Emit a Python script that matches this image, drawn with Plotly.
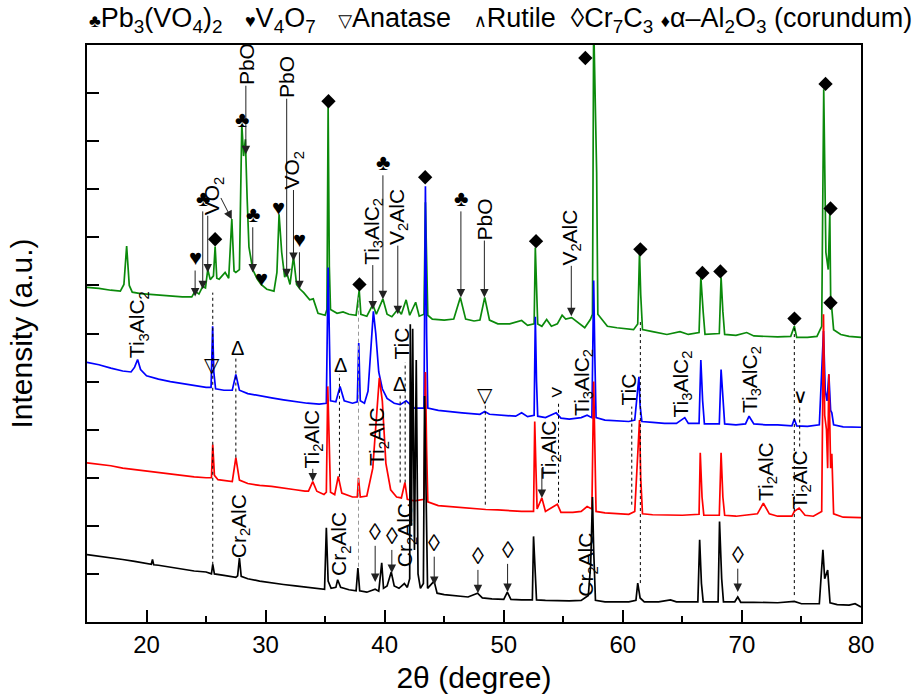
import plotly.graph_objects as go

FONT = "Liberation Sans, Arial, DejaVu Sans, sans-serif"

# XRD patterns: (2-theta in degree, intensity in a.u.), four samples stacked
green_pattern = [
    (15.0, 6.96), (16.0, 6.94), (17.0, 6.90), (17.8, 6.88), (18.1, 7.02), (18.33, 7.82), (18.55, 7.0),
    (18.8, 6.86), (19.5, 6.83), (20.0, 6.82), (21.0, 6.80), (22.0, 6.77), (23.0, 6.76), (23.8, 6.76),
    (24.08, 6.88), (24.4, 6.82), (24.72, 6.98), (24.95, 6.95), (25.14, 7.33), (25.35, 7.12), (25.62, 7.2),
    (25.76, 7.81), (25.9, 7.15), (26.1, 7.13), (26.6, 7.27), (26.9, 7.15), (27.16, 8.38), (27.35, 7.3),
    (27.5, 7.27), (27.8, 7.33), (28.0, 10.35), (28.15, 9.69), (28.3, 10.04), (28.45, 8.8), (28.6, 7.8),
    (28.92, 7.33), (29.3, 7.13), (29.62, 7.02), (30.1, 6.92), (30.7, 6.88), (30.95, 7.27), (31.13, 8.48),
    (31.35, 7.69), (31.6, 7.17), (31.77, 7.27), (32.05, 7.02), (32.34, 7.6), (32.6, 7.02), (32.9, 6.92),
    (33.2, 6.85), (33.7, 6.7), (34.0, 6.72), (34.4, 6.42), (35.0, 6.38), (35.15, 6.5), (35.25, 10.73),
    (35.35, 7.4), (35.45, 6.5), (36.0, 6.42), (36.5, 6.45), (37.0, 6.40), (37.6, 6.38), (37.86, 6.90),
    (38.0, 6.4), (38.5, 6.36), (39.0, 6.6), (39.3, 6.4), (39.85, 6.72), (40.2, 6.40), (40.6, 6.35),
    (41.1, 6.5), (41.4, 6.4), (41.8, 6.7), (42.1, 6.38), (42.6, 6.65), (42.9, 6.36), (43.3, 6.4),
    (43.42, 8.73), (43.52, 7.2), (43.62, 6.38), (44.0, 6.30), (45.0, 6.28), (45.8, 6.30), (46.35, 6.75),
    (46.8, 6.30), (47.5, 6.26), (48.0, 6.28), (48.4, 6.75), (48.8, 6.28), (49.5, 6.20), (50.5, 6.20),
    (51.5, 6.27), (52.0, 6.17), (52.55, 6.2), (52.65, 7.79), (52.75, 6.8), (52.85, 6.2), (53.2, 6.15),
    (53.6, 6.29), (54.0, 6.15), (54.5, 6.2), (54.9, 6.38), (55.2, 6.3), (55.7, 6.33), (56.2, 6.23),
    (56.8, 6.12), (57.27, 6.29), (57.45, 6.4), (57.55, 12.5), (57.8, 9.35), (57.9, 6.4), (58.7, 6.15),
    (59.5, 6.12), (60.5, 6.1), (60.9, 6.08), (61.25, 6.2), (61.4, 7.69), (61.5, 6.81), (61.65, 6.08),
    (62.5, 6.04), (63.7, 5.98), (64.8, 6.04), (65.5, 5.98), (66.4, 6.02), (66.55, 7.17), (66.75, 6.44),
    (66.9, 5.98), (68.1, 6.0), (68.25, 7.17), (68.4, 6.46), (68.55, 5.98), (69.5, 5.96), (70.4, 6.02),
    (71.0, 5.95), (72.1, 5.94), (73.0, 5.93), (74.1, 5.94), (74.4, 6.15), (74.6, 5.92), (75.5, 5.92),
    (76.3, 5.94), (76.7, 6.15), (76.87, 11.08), (77.05, 7.69), (77.25, 7.33), (77.38, 8.52), (77.45, 6.8),
    (77.52, 6.6), (77.7, 6.08), (78.3, 5.98), (79.0, 5.94), (80.0, 5.92),
]

blue_pattern = [
    (15.0, 5.40), (16.0, 5.35), (17.0, 5.28), (18.0, 5.22), (18.7, 5.20), (19.0, 5.30), (19.25, 5.46),
    (19.5, 5.25), (20.0, 5.12), (21.0, 5.05), (22.0, 5.00), (23.0, 4.96), (24.0, 4.92), (25.0, 4.88),
    (25.42, 4.88), (25.55, 6.15), (25.65, 5.2), (25.8, 4.85), (26.5, 4.82), (27.2, 4.82), (27.5, 5.15),
    (27.8, 4.82), (28.5, 4.75), (29.5, 4.70), (30.5, 4.66), (31.5, 4.62), (32.5, 4.58), (33.5, 4.55),
    (34.5, 4.53), (35.1, 4.55), (35.25, 7.37), (35.35, 5.7), (35.45, 4.6), (35.9, 4.58), (36.25, 4.9),
    (36.6, 4.6), (37.3, 4.55), (37.7, 4.58), (37.82, 5.8), (37.95, 4.6), (38.3, 4.55), (38.6, 4.8),
    (38.85, 5.8), (39.05, 6.46), (39.25, 6.0), (39.5, 5.2), (39.8, 4.85), (40.2, 4.65), (40.8, 4.55),
    (41.3, 4.52), (41.8, 4.6), (42.5, 4.45), (43.3, 4.45), (43.42, 9.06), (43.52, 6.0), (43.62, 4.45),
    (44.5, 4.40), (45.5, 4.37), (46.5, 4.35), (48.0, 4.32), (48.4, 4.38), (48.8, 4.32), (50.0, 4.30),
    (51.0, 4.28), (51.5, 4.35), (52.0, 4.27), (52.55, 4.3), (52.65, 6.35), (52.75, 5.0), (52.85, 4.28),
    (53.5, 4.25), (54.4, 4.35), (54.8, 4.24), (55.5, 4.22), (56.5, 4.25), (57.0, 4.3), (57.4, 4.25),
    (57.55, 7.1), (57.65, 5.5), (57.75, 4.25), (58.5, 4.20), (59.5, 4.18), (60.5, 4.17), (61.0, 4.2),
    (61.35, 5.1), (61.45, 4.5), (61.6, 4.17), (62.5, 4.15), (63.5, 4.13), (64.5, 4.13), (65.2, 4.25),
    (65.5, 4.13), (66.4, 4.13), (66.55, 5.45), (66.7, 4.6), (66.85, 4.12), (68.1, 4.12), (68.25, 5.25),
    (68.4, 4.6), (68.55, 4.12), (69.5, 4.10), (70.3, 4.12), (70.6, 4.28), (71.0, 4.12), (72.0, 4.10),
    (73.0, 4.10), (74.2, 4.08), (74.4, 4.22), (74.6, 4.08), (75.5, 4.07), (76.5, 4.10), (76.85, 6.05),
    (77.0, 4.8), (77.15, 4.6), (77.3, 5.15), (77.45, 4.4), (77.55, 4.35), (77.7, 4.10), (78.5, 4.06),
    (79.5, 4.05), (80.0, 4.05),
]

red_pattern = [
    (15.0, 3.31), (16.0, 3.28), (17.0, 3.25), (18.0, 3.20), (19.0, 3.17), (20.0, 3.13), (21.0, 3.10),
    (22.0, 3.07), (23.0, 3.04), (24.0, 3.02), (25.0, 3.00), (25.45, 3.0), (25.56, 3.69), (25.7, 3.05),
    (26.0, 2.96), (27.2, 2.92), (27.5, 3.42), (27.8, 2.95), (28.5, 2.88), (29.5, 2.84), (30.5, 2.82),
    (31.5, 2.79), (32.5, 2.75), (33.3, 2.72), (33.6, 2.72), (33.96, 2.92), (34.3, 2.72), (34.9, 2.65),
    (35.1, 2.7), (35.22, 4.9), (35.32, 3.8), (35.45, 2.7), (35.8, 2.65), (36.1, 3.03), (36.4, 2.68),
    (37.3, 2.60), (37.7, 2.60), (37.8, 3.0), (37.95, 2.6), (38.5, 2.62), (39.0, 3.2), (39.3, 4.2),
    (39.55, 5.08), (39.8, 4.6), (40.1, 3.3), (40.5, 2.75), (41.0, 2.60), (41.4, 2.58), (41.7, 2.9),
    (41.9, 2.55), (42.5, 2.52), (43.3, 2.55), (43.42, 5.2), (43.52, 3.6), (43.62, 2.5), (44.5, 2.42),
    (45.5, 2.40), (46.5, 2.38), (47.5, 2.35), (48.5, 2.34), (49.5, 2.33), (50.5, 2.31), (51.5, 2.30),
    (52.5, 2.30), (52.6, 4.17), (52.7, 3.2), (52.8, 2.35), (53.2, 2.58), (53.5, 2.30), (54.5, 2.45),
    (54.8, 2.28), (55.8, 2.28), (56.5, 2.30), (57.0, 2.4), (57.4, 2.35), (57.55, 5.0), (57.65, 3.8),
    (57.75, 2.30), (58.5, 2.27), (59.5, 2.25), (60.5, 2.24), (61.0, 2.3), (61.4, 4.2), (61.5, 3.0),
    (61.65, 2.25), (62.5, 2.23), (64.0, 2.22), (65.0, 2.22), (66.4, 2.24), (66.5, 3.52), (66.65, 2.6),
    (66.8, 2.22), (68.1, 2.22), (68.25, 3.52), (68.4, 2.6), (68.55, 2.22), (69.5, 2.20), (71.3, 2.25),
    (71.8, 2.47), (72.3, 2.25), (73.0, 2.20), (74.2, 2.20), (74.4, 2.3), (74.8, 2.37), (75.3, 2.22),
    (76.0, 2.20), (76.7, 2.3), (76.85, 6.4), (76.95, 4.3), (77.1, 4.0), (77.2, 3.2), (77.3, 5.15),
    (77.45, 3.2), (77.55, 3.5), (77.7, 2.25), (78.5, 2.18), (80.0, 2.17),
]

black_pattern = [
    (15.0, 1.40), (16.0, 1.37), (17.0, 1.33), (18.0, 1.30), (19.0, 1.26), (20.0, 1.22), (20.4, 1.2),
    (20.5, 1.30), (20.6, 1.19), (21.0, 1.18), (22.0, 1.14), (23.0, 1.10), (24.0, 1.06), (25.0, 1.04),
    (25.45, 1.0), (25.56, 1.2), (25.7, 1.0), (26.5, 0.97), (27.5, 0.93), (27.65, 0.96), (27.8, 1.33),
    (27.95, 0.95), (28.2, 0.92), (28.5, 0.90), (29.5, 0.85), (30.5, 0.81), (31.5, 0.78), (32.5, 0.75),
    (33.5, 0.72), (34.5, 0.69), (34.95, 0.68), (35.1, 1.96), (35.25, 0.85), (35.5, 0.70), (35.9, 0.72),
    (36.05, 0.88), (36.3, 0.72), (37.0, 0.67), (37.6, 0.65), (37.75, 1.12), (37.9, 0.65), (38.5, 0.62),
    (39.2, 0.68), (39.5, 0.64), (39.75, 1.23), (39.9, 0.7), (40.2, 0.75), (40.55, 1.04), (40.8, 0.75),
    (41.2, 0.70), (41.65, 0.8), (41.9, 0.72), (42.1, 0.9), (42.15, 6.19), (42.25, 2.0), (42.35, 6.1),
    (42.5, 1.5), (42.65, 5.45), (42.8, 1.0), (43.0, 0.70), (43.25, 0.8), (43.35, 4.7), (43.5, 1.5),
    (43.6, 0.70), (44.15, 0.85), (44.4, 0.60), (45.0, 0.57), (46.0, 0.55), (47.0, 0.52), (47.8, 0.6),
    (48.2, 0.50), (49.0, 0.48), (50.0, 0.47), (50.3, 0.62), (50.6, 0.47), (51.5, 0.46), (52.4, 0.46),
    (52.5, 1.78), (52.62, 1.0), (52.75, 0.46), (53.5, 0.45), (54.5, 0.44), (55.5, 0.44), (56.5, 0.45),
    (57.1, 0.55), (57.3, 1.2), (57.45, 2.6), (57.55, 1.5), (57.7, 0.45), (58.5, 0.42), (59.5, 0.42),
    (60.5, 0.42), (61.1, 0.45), (61.25, 0.81), (61.45, 0.5), (61.8, 0.42), (63.0, 0.42), (64.0, 0.46),
    (64.5, 0.42), (66.3, 0.42), (66.45, 1.71), (66.6, 0.8), (66.75, 0.42), (68.0, 0.42), (68.12, 2.09),
    (68.3, 0.9), (68.45, 0.42), (69.4, 0.42), (69.65, 0.52), (69.9, 0.41), (71.0, 0.41), (72.0, 0.41),
    (73.0, 0.40), (74.4, 0.43), (75.0, 0.38), (76.5, 0.38), (76.8, 1.5), (76.95, 0.9), (77.2, 1.08),
    (77.4, 0.40), (78.0, 0.36), (79.0, 0.35), (79.5, 0.38), (80.0, 0.31),
]

# corundum reflections marked with filled diamonds
corundum_marks = [
    (25.76, 7.96), (35.28, 10.83), (37.88, 7.02), (43.4, 9.25), (52.71, 7.92), (56.85, 11.73),
    (61.47, 7.75), (66.68, 7.26), (68.19, 7.29), (74.41, 6.31), (77.02, 11.19), (77.44, 8.6), (77.44, 6.64),
]

x_ticks = [20, 30, 40, 50, 60, 70, 80]

# labelled arrows: (label, 2-theta, label height, arrow tip height)
arrow_labels = [
    ("♣", 24.72, 8.81, 6.92),
    ("♥", 24.08, 7.58, 6.77),
    ("♣", 28.92, 8.48, 7.27),
    ("PbO", 28.34, 11.6, 9.73),
    ("PbO", 31.77, 11.33, 7.17),
    ("VO<sub>2</sub>", 32.34, 9.40, 7.51),
    ("♥", 32.84, 7.96, 6.92),
    ("Ti<sub>3</sub>AlC<sub>2</sub>", 39.0, 8.13, 6.5),
    ("♣", 39.85, 9.56, 6.71),
    ("V<sub>2</sub>AlC", 41.1, 8.42, 6.4),
    ("♣", 46.4, 8.81, 6.75),
    ("PbO", 48.37, 8.38, 6.75),
    ("V<sub>2</sub>AlC", 55.67, 8.0, 6.36),
    ("Ti<sub>2</sub>AlC", 33.96, 3.81, 2.92),
    ("◊", 39.2, 1.875, 0.83),
    ("◊", 40.6, 1.79, 1.02),
    ("◊", 44.16, 1.65, 0.77),
    ("◊", 47.83, 1.375, 0.6),
    ("◊", 50.32, 1.5, 0.625),
    ("◊", 69.65, 1.4, 0.625),
]

# bare arrows: (tail 2-theta, tail height, tip 2-theta, tip height)
bare_arrows = [
    (25.14, 8.48, 25.14, 7.27),
    (26.18, 8.85, 27.16, 8.375),
    (53.2, 3.23, 53.2, 2.58),
]

# rotated phase labels without arrows
phase_labels = [
    ("VO<sub>2</sub>", 25.61, 8.86),
    ("Ti<sub>3</sub>AlC<sub>2</sub>", 19.35, 6.19),
    ("Ti<sub>2</sub>AlC", 39.45, 3.85),
    ("TiC", 41.45, 5.79),
    ("Ti<sub>3</sub>AlC<sub>2</sub>", 56.6, 4.98),
    ("TiC", 60.49, 4.83),
    ("Ti<sub>3</sub>AlC<sub>2</sub>", 64.97, 4.94),
    ("Ti<sub>3</sub>AlC<sub>2</sub>", 70.71, 5.04),
    ("Ti<sub>2</sub>AlC", 53.91, 3.58),
    ("Ti<sub>2</sub>AlC", 72.06, 3.13),
    ("Ti<sub>2</sub>AlC", 74.92, 2.96),
    ("Cr<sub>2</sub>AlC", 27.8, 2.0),
    ("Cr<sub>2</sub>AlC", 36.26, 1.625),
    ("Cr<sub>2</sub>AlC", 41.81, 1.81),
    ("Cr<sub>2</sub>AlC", 56.99, 1.19),
]

# upright phase symbols: (symbol, 2-theta, height)
symbol_labels = [
    ("♣", 28.0, 10.46),
    ("♥", 31.08, 8.63),
    ("♥", 29.62, 7.15),
    ("▽", 25.48, 5.35),
    ("Δ", 27.63, 5.70),
    ("Δ", 36.26, 5.35),
    ("Δ", 41.24, 4.94),
    ("▽", 48.39, 4.73),
    ("∨", 74.92, 4.69),
    ("&gt;", 54.47, 4.79),
]

# dashed guide lines: (2-theta, top, bottom)
guide_lines = [
    (25.56, 6.85, 1.19), (27.5, 5.5, 3.42), (36.2, 5.15, 3.02), (41.3, 4.75, 2.9), (41.72, 5.4, 2.9),
    (48.45, 4.58, 2.44), (54.6, 4.56, 2.48), (60.75, 4.48, 2.44), (61.47, 6.29, 0.81),
    (74.4, 6.19, 0.56), (74.85, 4.5, 3.65),
]
grey_guide_lines = [(37.8, 6.75, 1.15)]

fig = go.Figure()

for pattern, color in [(green_pattern, "#0b8a0b"), (blue_pattern, "#0000ff"),
                       (red_pattern, "#ff0000"), (black_pattern, "#000000")]:
    tt, inten = zip(*pattern)
    fig.add_trace(go.Scatter(x=tt, y=inten, mode="lines", line=dict(color=color, width=1.7),
                             showlegend=False, hoverinfo="skip"))

cx, cy = zip(*corundum_marks)
fig.add_trace(go.Scatter(x=cx, y=cy, mode="markers", showlegend=False, hoverinfo="skip",
                         marker=dict(symbol="diamond", size=11, color="black")))

for x, top, bottom in guide_lines:
    fig.add_shape(type="line", x0=x, x1=x, y0=bottom, y1=top, xref="x", yref="y",
                  line=dict(color="black", width=1, dash="3px,3px"))
for x, top, bottom in grey_guide_lines:
    fig.add_shape(type="line", x0=x, x1=x, y0=bottom, y1=top, xref="x", yref="y",
                  line=dict(color="#9a9a9a", width=1, dash="4px,3px"))

SYMBOL_SIZE = {"◊": 24, "♣": 22, "♥": 22}

annotations = []
for text, x, ylab, ytip in arrow_labels:
    is_symbol = text in SYMBOL_SIZE
    annotations.append(dict(
        text=text, x=x, y=ytip, ax=x, ay=ylab, xref="x", yref="y", axref="x", ayref="y",
        showarrow=True, arrowhead=2, arrowsize=1.7, arrowwidth=1, arrowcolor="#222222", standoff=0,
        textangle=0 if is_symbol else -90,
        font=dict(family=FONT, size=SYMBOL_SIZE.get(text, 21), color="black"),
        borderpad=0,
    ))
for x0, y0, x1, y1 in bare_arrows:
    annotations.append(dict(
        text="", x=x1, y=y1, ax=x0, ay=y0, xref="x", yref="y", axref="x", ayref="y",
        showarrow=True, arrowhead=2, arrowsize=1.7, arrowwidth=1, arrowcolor="#222222", standoff=0,
    ))
for text, x, y in phase_labels:
    annotations.append(dict(text=text, x=x, y=y, xref="x", yref="y", showarrow=False, textangle=-90,
                            font=dict(family=FONT, size=21, color="black")))
for text, x, y in symbol_labels:
    annotations.append(dict(text=text, x=x, y=y, xref="x", yref="y", showarrow=False,
                            font=dict(family=FONT, size=SYMBOL_SIZE.get(text, 20), color="black")))

sym = '<span style="font-size:18px">{}</span>'
gap = "\u00a0\u00a0\u00a0"
legend_text = (
    sym.format("♣") + "Pb<sub>3</sub>(VO<sub>4</sub>)<sub>2</sub>" + gap
    + sym.format("♥") + "V<sub>4</sub>O<sub>7</sub>" + gap
    + sym.format("▽") + "Anatase" + gap
    + sym.format("∧") + "Rutile\u00a0\u00a0"
    + "◊Cr<sub>7</sub>C<sub>3</sub>\u00a0"
    + sym.format("♦") + "α–Al<sub>2</sub>O<sub>3</sub> (corundum)"
)
annotations.append(dict(text=legend_text, x=0.0, y=1.043, xref="paper", yref="paper",
                        xanchor="left", yanchor="middle", showarrow=False,
                        font=dict(family=FONT, size=27, color="black")))

fig.update_layout(
    width=919, height=700,
    margin=dict(l=87, r=58, t=45, b=78),
    paper_bgcolor="white", plot_bgcolor="white",
    annotations=annotations,
    font=dict(family=FONT, color="black"),
    xaxis=dict(
        range=[15, 80], tickvals=x_ticks, ticks="inside", ticklen=12, tickwidth=2, tickcolor="black",
        minor=dict(dtick=5, tick0=0, ticks="inside", ticklen=6, tickwidth=2, tickcolor="black"),
        showline=True, linecolor="black", linewidth=2, mirror=True, showgrid=False, zeroline=False,
        tickfont=dict(family=FONT, size=24, color="black"),
        title=dict(text="2θ (degree)", font=dict(family=FONT, size=30, color="black"), standoff=10),
    ),
    yaxis=dict(
        range=[0, 12], tickvals=list(range(1, 12)), showticklabels=False, ticks="inside", ticklen=12,
        tickwidth=2, tickcolor="black",
        showline=True, linecolor="black", linewidth=2, mirror=True, showgrid=False, zeroline=False,
        title=dict(text="Intensity (a.u.)", font=dict(family=FONT, size=30, color="black"), standoff=44),
    ),
)

fig.write_html("out.html")
